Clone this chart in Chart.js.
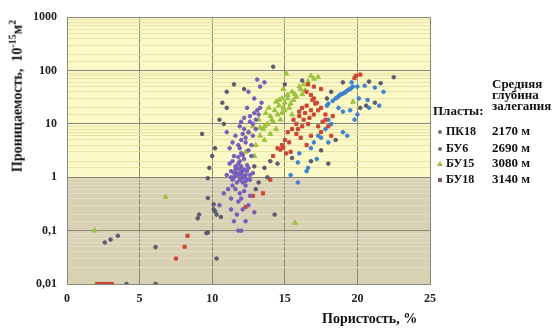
<!DOCTYPE html>
<html>
<head>
<meta charset="utf-8">
<script src="https://cdn.jsdelivr.net/npm/chart.js@4"></script>
<style>
  body { margin: 0; background: #fff; }
  #wrap { position: relative; width: 553px; height: 335px; font-family: "Liberation Serif", "Times New Roman", serif; font-weight: bold; color: #111; }
  #chart { position: absolute; left: 0; top: 0; }
  .txt { position: absolute; white-space: nowrap; }
  #ytitle { left: 16px; top: 96px; font-size: 14px; transform: translate(-50%, -50%) rotate(-90deg); }
  #xtitle { left: 322px; top: 311px; font-size: 14px; }
  .leg { font-size: 12px; }
  .mk { position: absolute; width: 4px; height: 4px; border-radius: 2px; }
</style>
</head>
<body>
<div id="wrap">
  <canvas id="chart" width="553" height="335"></canvas>
  <div class="txt" id="ytitle">Проницаемость,&nbsp; 10<sup style="font-size:10px">-15</sup>м<sup style="font-size:10px">2</sup></div>
  <div class="txt" id="xtitle">Пористость, %</div>
  <div id="legend"></div>
</div>
<script>
// x = пористость, %, y = проницаемость, 10^-15 м2
let seriesNames = ["ПК18", "БУ6", "БУ15", "БУ18"]
let depths = ["2170 м", "2690 м", "3080 м", "3140 м"]
let colors = ["#3f82cf", "#7a5cbc", "#9cc23f", "#cc4434"]

let pk18 = [
  [18.0,24],[18.3,27],[18.5,30],[18.7,33],[18.9,36],[19.1,38],[19.3,42],[19.5,45],[19.7,50],[19.2,40],
  [18.6,31],[18.8,35],[19.0,37],[19.4,44],[19.6,48],[17.9,22],[20.0,50],[19.6,60],[20.5,52],[21.2,48],
  [21.8,40],[20.1,30],[20.7,28],[18.7,20],[19.0,17],[19.5,18],[20.0,15],[18.0,12],[18.2,10],[17.8,8],
  [17.3,6],[19.0,7],[19.3,6],[17.0,4.5],[17.5,5.5],[16.8,3.5],[18.0,4.5],[17.2,2.2],[16.6,1.5],[16.5,1.3],
  [16.0,2.8],[15.9,1.9],[15.4,1.1],[15.9,0.8],[20.8,20],[21.5,22],[19.8,12]
]
let bu6 = [
  [11.5,1.0],[11.8,1.1],[12.0,1.2],[12.2,1.0],[11.9,0.9],[12.1,0.8],[11.7,0.8],[12.4,1.3],[12.5,1.5],[11.6,1.4],
  [12.0,1.6],[11.3,1.3],[11.4,0.7],[12.3,0.7],[12.6,0.9],[11.9,2.0],[12.2,2.2],[11.5,2.5],[12.0,2.8],[12.7,2.5],
  [11.2,1.8],[11.0,1.1],[12.8,1.2],[11.6,0.6],[12.2,0.55],[10.8,0.5],[11.3,0.4],[11.8,0.35],[12.5,0.3],[12.1,0.25],
  [11.7,0.2],[12.9,0.22],[11.5,0.15],[11.8,0.1],[12.0,0.1],[10.5,0.3],[11.8,4],[12.0,5],[12.3,5.5],[11.6,6],
  [12.5,7],[12.2,8],[11.9,9],[12.8,10],[13.0,12],[12.6,14],[13.2,15],[12.0,11],[13.1,18],[12.4,20],
  [11.4,4.5],[11.2,3.5],[12.7,4],[13.4,25],[11.0,7],[12.9,30],[13.1,68],[13.6,60],[13.3,50],[12.5,40],
  [11.7,1.2],[12.3,1.1],[11.9,1.4],[12.1,1.3],[11.6,1.1],[12.4,0.9],
  [11.4,0.9],[11.6,1.6],[11.8,1.8],[12.0,0.95],[12.2,1.4],[12.4,1.7],[11.3,1.0],[11.5,1.2],[11.7,1.5],[11.9,1.15],
  [12.1,1.05],[12.3,0.85],[12.6,1.1],[11.4,2.0],[11.8,2.4],[12.1,2.6],[12.5,3.2],[11.9,3.5],[12.3,4.5],[12.8,6],
  [12.1,6.5],[13.0,8],[12.6,11],[12.9,16],[13.3,20],[12.2,13],[11.1,0.6],[11.9,0.5],[12.6,0.45],[12.0,0.4],
  [11.3,0.25],[12.3,0.15]
]
let bu15 = [
  [15.1,88],[16.8,80],[17.0,70],[17.3,75],[16.6,62],[16.0,50],[15.5,40],[15.2,35],[14.8,30],[15.0,25],
  [14.6,22],[14.3,18],[14.5,15],[14.0,14],[13.8,10],[14.2,11],[13.5,8],[13.3,6],[13.6,5],[14.0,6.5],
  [14.7,12],[15.3,20],[15.6,28],[15.8,32],[16.2,36],[15.0,18],[14.4,26],[13.9,20],[13.2,12],[12.8,9],
  [12.5,7],[13.0,4],[12.9,2.5],[12.3,3],[19.7,26],[15.7,0.14],[6.8,0.43],[1.9,0.1],[2.0,0.01],[14.9,45],
  [16.4,42],[13.7,16],[14.6,28],[15.2,30],[15.4,24],[14.9,20],[14.1,12],[14.8,16],[15.7,36],[16.1,45],
  [16.3,55],[13.6,9],[13.3,8.5],[14.4,8],[15.5,15]
]
let bu18 = [
  [19.9,80],[20.2,84],[19.8,72],[16.5,40],[16.8,35],[17.0,30],[17.2,25],[16.2,20],[16.5,22],[16.8,18],
  [17.0,15],[17.5,20],[17.8,15],[16.0,14],[16.3,12],[15.8,10],[16.6,10],[17.3,9],[17.8,12],[18.0,9],
  [15.5,8],[15.2,7],[15.8,6.5],[16.1,5.5],[16.8,6],[15.0,5],[14.8,4],[14.5,3.5],[14.7,3.3],[14.9,3.6],
  [15.4,3],[14.2,2.5],[16.5,4],[17.5,7],[18.2,6],[16.0,17],[15.6,12],[17.1,24],[17.0,50],[17.5,45],
  [16.6,55],[12.8,0.45],[14.0,0.9],[13.5,0.5],[12.3,0.28],[2.1,0.01],[2.3,0.01],[2.5,0.01],[2.7,0.01],[2.9,0.01],
  [3.1,0.01],[6.1,0.01],[7.5,0.03],[8.1,0.05],[8.3,0.08],
  [16.9,28],[17.3,18],[16.4,16],[15.9,8],[16.2,9],[17.6,11],[15.3,4.5],[15.1,2.8],[16.7,13],[18.3,14]
]
// точки тёмного оттенка, разбросанные по полю
let other = [
  [14.2,118],[22.5,75],[20.8,62],[21.6,58],[21.2,25],[20.6,22],[20.2,20],[9.3,6.5],[10.5,12],[10.7,25],
  [11.0,40],[11.5,55],[12.2,45],[11.0,20],[10.8,10],[10.2,3.5],[10.0,2.5],[9.8,1.5],[9.7,0.96],[9.7,0.41],
  [10.1,0.31],[10.1,0.25],[10.2,0.23],[10.3,0.2],[10.6,0.18],[9.1,0.2],[9.0,0.17],[9.6,0.09],[9.7,0.092],[10.3,0.03],
  [14.3,0.2],[2.6,0.06],[3.0,0.068],[3.5,0.08],[6.1,0.049],[4.1,0.01],[6.1,0.01],[13.6,1.5],[14.0,2],[13.8,1.0],
  [14.5,1.8],[13.0,0.6],[15.5,2.3],[16.8,2.0],[17.5,3.2],[18.5,5],[18.0,1.8],[17.9,30],[18.2,40],[19.0,60],
  [16.2,65],[15.0,55],[13.2,0.8],[12.9,1.6]
]

let xTicks = [0, 5, 10, 15, 20, 25]

function pts(arr) {
  return arr.map(p => ({ x: p[0], y: p[1] }))
}

function isDecade(v) {
  let l = Math.log10(v)
  return Math.abs(l - Math.round(l)) < 1e-6
}

// фон: светло-жёлтый выше 1, бежевый ниже
const bgPlugin = {
  id: "bg",
  beforeDraw(chart) {
    const { ctx, chartArea: a, scales } = chart
    const y1 = scales.y.getPixelForValue(1)
    ctx.save()
    ctx.fillStyle = "#fcf9c9"
    ctx.fillRect(a.left, a.top, a.right - a.left, y1 - a.top)
    ctx.fillStyle = "#d9d1b3"
    ctx.fillRect(a.left, y1, a.right - a.left, a.bottom - y1)
    ctx.restore()
  }
}

const ctx = document.getElementById("chart").getContext("2d")

const data = {
  datasets: [
    { label: "other", data: pts(other), backgroundColor: "#5c5b6e", borderColor: "#5c5b6e", pointRadius: 1.8, pointStyle: "circle" },
    { label: seriesNames[1], data: pts(bu6), backgroundColor: colors[1], borderColor: colors[1], pointRadius: 1.8, pointStyle: "circle" },
    { label: seriesNames[3], data: pts(bu18), backgroundColor: colors[3], borderColor: colors[3], pointRadius: 2.2, pointStyle: "rect" },
    { label: seriesNames[2], data: pts(bu15), backgroundColor: colors[2], borderColor: colors[2], pointRadius: 2.8, pointStyle: "triangle" },
    { label: seriesNames[0], data: pts(pk18), backgroundColor: colors[0], borderColor: colors[0], pointRadius: 1.8, pointStyle: "circle" }
  ]
}

const config = {
  type: "scatter",
  data: data,
  plugins: [bgPlugin],
  options: {
    responsive: false,
    animation: false,
    layout: { padding: { top: 9, right: 123, left: 0, bottom: 0 } },
    plugins: { legend: { display: false }, tooltip: { enabled: false } },
    scales: {
      x: {
        type: "linear", min: 0, max: 25,
        afterBuildTicks: s => { s.ticks = xTicks.map(v => ({ value: v })) },
        afterFit: s => { s.height = 51 },
        border: { color: "#8a8878" },
        grid: { color: "#8a8878", drawTicks: false },
        ticks: { padding: 8, color: "#222", font: { family: "Liberation Serif", size: 12, weight: "bold" } }
      },
      y: {
        type: "logarithmic", min: 0.01, max: 1000,
        afterFit: s => { s.width = 67 },
        border: { color: "#8a8878" },
        grid: {
          drawTicks: false,
          color: c => {
            let v = c.tick.value
            if (isDecade(v)) return "#8a8878"
            return v >= 1 ? "#e9e3a6" : "#e3dcc6"
          }
        },
        ticks: {
          autoSkip: false, padding: 10, color: "#222",
          font: { family: "Liberation Serif", size: 12, weight: "bold" },
          callback: v => isDecade(v) ? String(Number(v.toPrecision(3))).replace(".", ",") : ""
        }
      }
    }
  }
}

const myChart = new Chart(ctx, config)

// легенда справа
let legend = document.getElementById("legend")
let html = ""
html += '<div class="txt leg" style="left:492px;top:78px;line-height:11px;font-size:13px">Средняя<br>глубина<br>залегания</div>'
html += '<div class="txt leg" style="left:433px;top:103px;font-size:13px">Пласты:</div>'
let rowY = [124, 141, 156, 172]
let order = [0, 1, 2, 3]
order.forEach((i, k) => {
  let y = rowY[k]
  let mk = i == 2
    ? '<div style="position:absolute;left:437px;top:' + (y + 5) + 'px;width:0;height:0;border-left:3px solid transparent;border-right:3px solid transparent;border-bottom:5px solid ' + colors[i] + '"></div>'
    : '<div class="mk" style="left:438px;top:' + (y + 6) + 'px;background:' + (i == 3 ? "#7a5f5a" : "#6a6a80") + (i == 3 ? ";border-radius:0" : "") + '"></div>'
  html += mk
  html += '<div class="txt leg" style="left:446px;top:' + y + 'px">' + seriesNames[i] + '</div>'
  html += '<div class="txt leg" style="left:492px;top:' + (y - 1) + 'px;font-size:13px">' + depths[i] + '</div>'
})
legend.innerHTML = html
</script>
</body>
</html>
